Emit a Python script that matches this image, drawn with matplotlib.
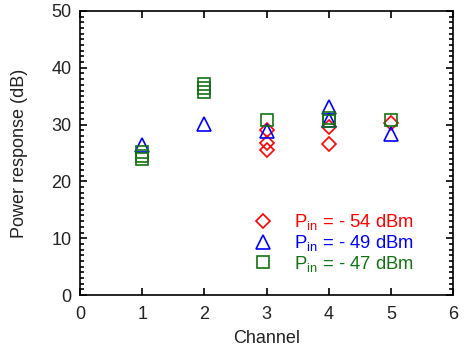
import matplotlib
matplotlib.use("Agg")
import matplotlib.pyplot as plt
from matplotlib.ticker import MultipleLocator

plt.rcParams['font.family'] = ['Liberation Sans', 'DejaVu Sans']
plt.rcParams['mathtext.fontset'] = 'custom'
plt.rcParams['mathtext.rm'] = 'Liberation Sans'
plt.rcParams['mathtext.it'] = 'Liberation Sans'

# P_in = -54 dBm (diamonds)
ch_54 = [3, 3, 3, 4, 4, 5]
pr_54 = [29.0, 26.8, 25.5, 29.6, 26.6, 30.3]

# P_in = -49 dBm (triangles)
ch_49 = [1, 2, 3, 4, 4, 5]
pr_49 = [26.4, 30.1, 28.9, 33.1, 30.8, 28.3]

# P_in = -47 dBm (squares)
ch_47 = [1, 1, 1, 2, 2, 2, 3, 4, 4, 5]
pr_47 = [25.1, 24.5, 23.9, 37.1, 36.4, 35.8, 30.8, 31.2, 30.6, 30.8]

labels = ['P$_{\\rm in}$ = - 54 dBm', 'P$_{\\rm in}$ = - 49 dBm', 'P$_{\\rm in}$ = - 47 dBm']
colors = ['#ff0000', '#0000ff', '#137313']

fig = plt.figure(figsize=(4.66, 3.49), dpi=100)
ax = fig.add_axes([0.1717, 0.1547, 0.8013, 0.8138])

ax.plot(ch_54, pr_54, 'D', ms=7.0, mfc='none', mec=colors[0], mew=1.2, label=labels[0])
ax.plot(ch_49, pr_49, '^', ms=10.5, mfc='none', mec=colors[1], mew=1.2, label=labels[1])
ax.plot(ch_47, pr_47, 's', ms=9.0, mfc='none', mec=colors[2], mew=1.2, label=labels[2])

ax.set_xlim(0, 6)
ax.set_ylim(0, 50)
ax.xaxis.set_major_locator(MultipleLocator(1))
ax.yaxis.set_major_locator(MultipleLocator(10))
ax.yaxis.set_minor_locator(MultipleLocator(1))
ax.tick_params(which='both', direction='in', top=True, right=True, labelsize=13,
               width=1.2, labelcolor='#222222')
ax.tick_params(which='major', length=5)
ax.tick_params(axis='x', which='major', pad=8)
ax.tick_params(axis='y', which='major', pad=6)
ax.tick_params(which='minor', length=3)
for s in ax.spines.values():
    s.set_linewidth(1.2)

ax.set_xlabel('Channel', fontsize=13, labelpad=5, color='#222222')
ax.set_ylabel('Power response (dB)', fontsize=13, labelpad=17, color='#222222')

leg = ax.legend(loc='upper left', bbox_to_anchor=(0.44, 0.318), frameon=False, fontsize=13.3,
                handletextpad=1.1, labelspacing=0.05, handlelength=1.2,
                numpoints=1, borderaxespad=0)
for txt, c in zip(leg.get_texts(), colors):
    txt.set_color(c)

fig.savefig('out.png', dpi=100)
